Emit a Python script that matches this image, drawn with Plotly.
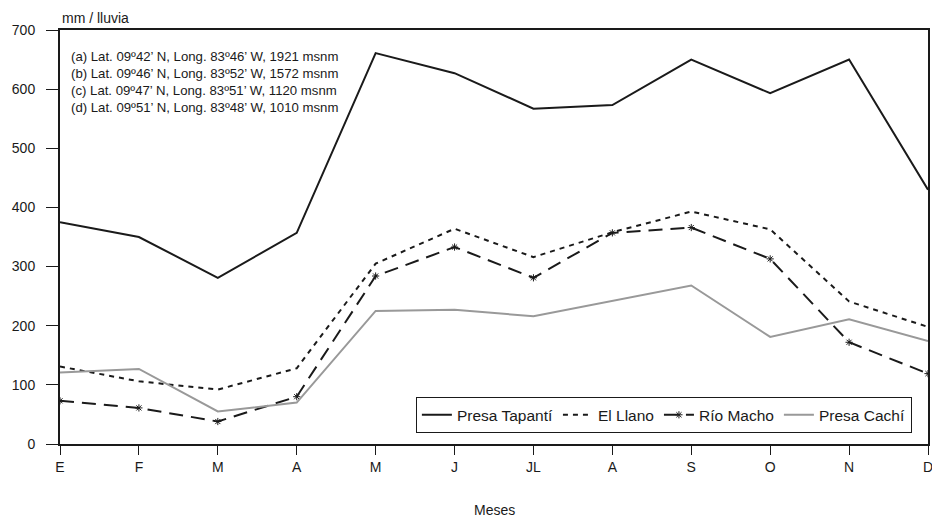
import plotly.graph_objects as go

meses = ["E", "F", "M", "A", "M ", "J", "JL", "A ", "S", "O", "N", "D"]
tick_labels = ["E", "F", "M", "A", "M", "J", "JL", "A", "S", "O", "N", "D"]
tapanti = [375, 350, 281, 357, 661, 627, 567, 573, 650, 593, 650, 430]
el_llano = [131, 106, 92, 128, 305, 364, 316, 358, 393, 363, 241, 198]
rio_macho = [73, 61, 38, 80, 284, 333, 281, 357, 366, 313, 172, 119]
cachi = [121, 127, 55, 70, 225, 227, 216, 242, 268, 181, 211, 174]

x = list(range(len(meses)))

fig = go.Figure()
fig.add_trace(go.Scatter(x=x, y=tapanti, mode="lines", name="Presa Tapantí",
                         line=dict(color="#1a1a1a", width=2)))
fig.add_trace(go.Scatter(x=x, y=el_llano, mode="lines", name="El Llano",
                         line=dict(color="#1a1a1a", width=2, dash="5px,5px")))
fig.add_trace(go.Scatter(x=x, y=rio_macho, mode="lines+markers", name="Río Macho",
                         line=dict(color="#1a1a1a", width=2, dash="14px,8px"),
                         marker=dict(symbol="asterisk-open", size=6,
                                     line=dict(color="#333", width=1))))
fig.add_trace(go.Scatter(x=x, y=cachi, mode="lines", name="Presa Cachí",
                         line=dict(color="#999999", width=2)))

font = "Liberation Sans, Arial, sans-serif"
fig.update_layout(
    width=932, height=521,
    margin=dict(l=60, r=4, t=30, b=77),
    paper_bgcolor="white", plot_bgcolor="white",
    font=dict(family=font, size=14, color="#1a1a1a"),
    showlegend=True,
    legend=dict(orientation="h", x=0.41, y=0.113, xanchor="left", yanchor="top",
                bordercolor="#1a1a1a", borderwidth=1, bgcolor="white",
                font=dict(size=15.5), itemwidth=30, traceorder="normal"),
    xaxis=dict(range=[0, 11], tickmode="array", tickvals=x, ticktext=tick_labels,
               showgrid=False, zeroline=False, showline=True, linecolor="#1a1a1a",
               linewidth=2, mirror=True, ticks="outside", ticklen=9, tickwidth=1,
               tickcolor="#1a1a1a", automargin=False, ticklabeloverflow="allow"),
    yaxis=dict(range=[0, 700], dtick=100, showgrid=False, zeroline=False,
               showline=True, linecolor="#1a1a1a", linewidth=2, mirror=True,
               ticks="outside", ticklen=12, tickwidth=1, tickcolor="#1a1a1a",
               ticklabelstandoff=8, automargin=False),
    annotations=[
        dict(text="mm / lluvia", xref="paper", yref="paper", x=0, y=1.0,
             xanchor="left", yanchor="bottom", yshift=2, showarrow=False,
             font=dict(size=14)),
        dict(text="Meses", xref="paper", yref="paper", x=0.5, y=-0.159,
             xanchor="center", yanchor="middle", showarrow=False,
             font=dict(size=14)),
        dict(text="(a) Lat. 09º42’ N, Long. 83º46’ W, 1921 msnm<br>"
                  "(b) Lat. 09º46’ N, Long. 83º52’ W, 1572 msnm<br>"
                  "(c) Lat. 09º47’ N, Long. 83º51’ W, 1120 msnm<br>"
                  "(d) Lat. 09º51’ N, Long. 83º48’ W, 1010 msnm",
             xref="paper", yref="paper", x=0.01, y=0.874, xanchor="left", yanchor="middle",
             align="left", showarrow=False, font=dict(size=13.2)),
    ],
)

fig.write_html("out.html",
               config={"displayModeBar": False},
               post_script="document.body.style.margin='0';"
                           "document.body.style.overflow='hidden';")
